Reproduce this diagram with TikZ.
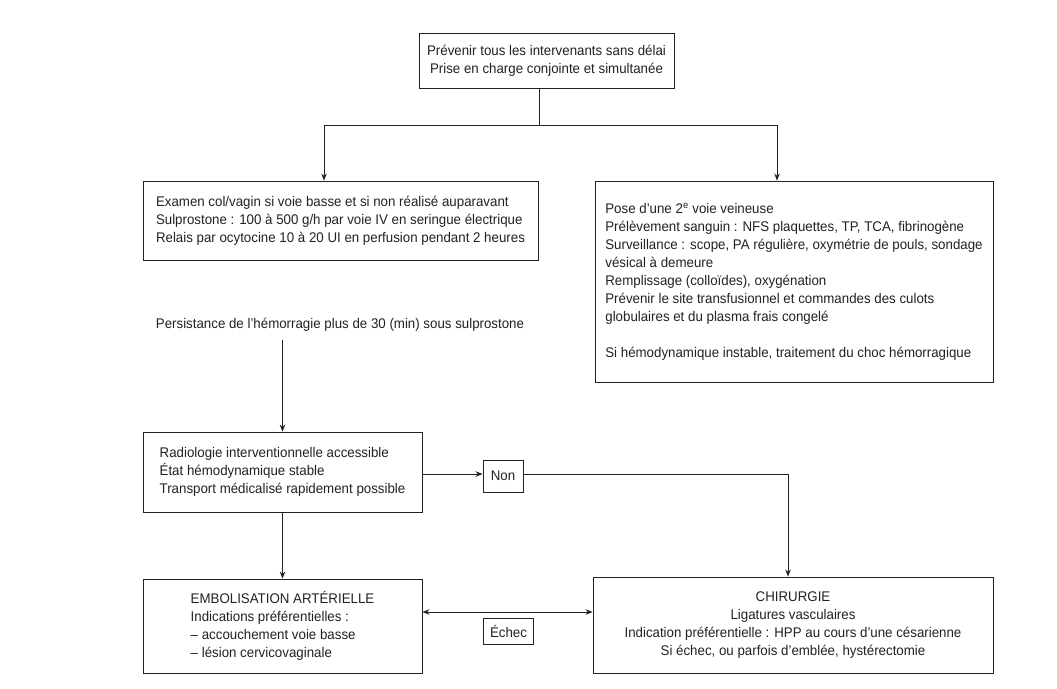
\documentclass[tikz,border=0pt]{standalone}
\usepackage{fontspec}
\setmainfont{Liberation Sans}[FakeStretch=0.95]
\usetikzlibrary{arrows.meta}
\definecolor{ink}{HTML}{222222}
\begin{document}
\begin{tikzpicture}[x=1pt,y=-1pt,
  box/.style={draw=ink, line width=0.9pt, inner sep=0pt, align=left, text=ink,
    font=\fontsize{14}{18}\selectfont},
  cbox/.style={box, align=center},
  lab/.style={draw=ink, line width=0.9pt, inner sep=0pt, text=ink,
    font=\fontsize{14}{18}\selectfont},
  conn/.style={draw=ink, line width=0.9pt},
  arr/.style={conn, -{Stealth[length=7pt,width=5.5pt]}},
  darr/.style={conn, {Stealth[length=7pt,width=5.5pt]}-{Stealth[length=7pt,width=5.5pt]}}
]
\useasboundingbox[fill=white] (0,0) rectangle (1057,688);

\node[cbox, minimum width=255pt, minimum height=55pt] (top) at (546.5,60.5)
  {Prévenir tous les intervenants sans délai\\Prise en charge conjointe et simultanée};

\node[box, minimum width=395pt, minimum height=79pt] (left) at (340.5,220.5)
  {Examen col/vagin si voie basse et si non réalisé auparavant\\
   Sulprostone : 100 à 500 g/h par voie IV en seringue électrique\\
   Relais par ocytocine 10 à 20 UI en perfusion pendant 2 heures};

\node[box, minimum width=398pt, minimum height=201pt] (right) at (794,281.5)
  {Pose d'une 2\textsuperscript{e} voie veineuse\\
   Prélèvement sanguin : NFS plaquettes, TP, TCA, fibrinogène\\
   Surveillance : scope, PA régulière, oxymétrie de pouls, sondage\\
   vésical à demeure\\
   Remplissage (colloïdes), oxygénation\\
   Prévenir le site transfusionnel et commandes des culots\\
   globulaires et du plasma frais congelé\\[18pt]
   Si hémodynamique instable, traitement du choc hémorragique};

\node[text=ink, inner sep=0pt, font=\fontsize{14}{18}\selectfont] (pers) at (340,325)
  {Persistance de l'hémorragie plus de 30 (min) sous sulprostone};

\node[box, minimum width=279pt, minimum height=80pt] (radio) at (282.5,472)
  {Radiologie interventionnelle accessible\\
   État hémodynamique stable\\
   Transport médicalisé rapidement possible};

\node[lab, minimum width=40pt, minimum height=32pt] (non) at (503,476) {Non};

\node[box, minimum width=279pt, minimum height=94pt] (embol) at (282.5,626)
  {EMBOLISATION ARTÉRIELLE\\
   Indications préférentielles :\\
   – accouchement voie basse\\
   – lésion cervicovaginale};

\node[cbox, minimum width=400pt, minimum height=96pt] (chir) at (793,625)
  {CHIRURGIE\\
   Ligatures vasculaires\\
   Indication préférentielle : HPP au cours d'une césarienne\\
   Si échec, ou parfois d'emblée, hystérectomie};

\node[lab, minimum width=50pt, minimum height=26pt] (echec) at (508.5,631) {Échec};

% connectors
\coordinate (split) at ([xshift=-7.5pt]top.south |- 0,125);
\draw[conn] ([xshift=-7.5pt]top.south) -- (split);
\draw[arr] (split) -| ([xshift=-16.5pt]left.north);
\draw[arr] (split) -| ([xshift=-17pt]right.north);

\draw[arr] (pers.south -| radio.north) ++(0,8) -- (radio.north);
\draw[arr] ([yshift=2pt]non.west -| radio.east) -- ([yshift=2pt]non.west);
\draw[arr] ([yshift=2pt]non.east) -| ([xshift=-5pt]chir.north);
\draw[arr] (radio.south) -- (embol.north);
\draw[darr] ([yshift=14pt]embol.east) -- ([yshift=14pt]embol.east -| chir.west);
\end{tikzpicture}
\end{document}
